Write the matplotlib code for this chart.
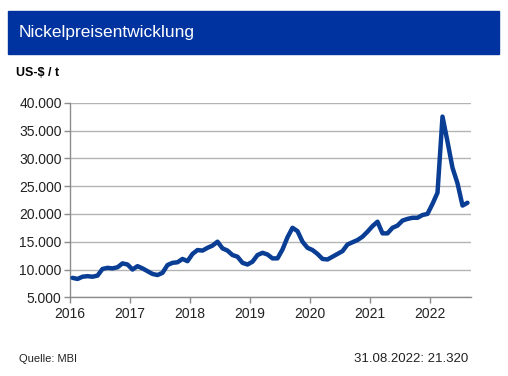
import numpy as np
import matplotlib.pyplot as plt
from matplotlib.patches import Rectangle

plt.rcParams['font.family'] = ['Liberation Sans', 'DejaVu Sans']

# monthly nickel price, US-$ / t, Jan 2016 .. Aug 2022
start_year = 2016
prices = [
    8500, 8300, 8700, 8800, 8700, 8900, 10100, 10300, 10200, 10400, 11100, 10900,   # 2016
    10000, 10600, 10200, 9700, 9200, 9000, 9400, 10800, 11200, 11300, 11900, 11500,  # 2017
    12800, 13500, 13400, 13900, 14300, 15000, 13800, 13400, 12600, 12300, 11200, 10900,  # 2018
    11400, 12600, 13000, 12700, 12000, 12000, 13600, 15800, 17500, 16900, 15000, 13900,  # 2019
    13500, 12800, 11900, 11800, 12300, 12800, 13300, 14500, 14900, 15300, 15900, 16800,  # 2020
    17800, 18600, 16500, 16500, 17500, 17900, 18800, 19100, 19300, 19300, 19800, 20000,  # 2021
    21800, 23800, 37500, 33000, 28300, 25500, 21500, 22000,  # 2022
]
yticks = [5000, 10000, 15000, 20000, 25000, 30000, 35000, 40000]
years = list(range(2016, 2023))
title = "Nickelpreisentwicklung"
unit = "US-$ / t"
source = "Quelle: MBI"
last_value = "31.08.2022: 21.320"

x = start_year + (np.arange(len(prices)) + 0.5) / 12.0

fig = plt.figure(figsize=(5.08, 3.76), dpi=100)
fig.patch.set_facecolor("white")

# header band
fig.patches.append(Rectangle((8/508, 1-53.7/376), 491/508, 42.7/376,
                             transform=fig.transFigure, color="#0033a0", zorder=0))
fig.text(19/508, 1-32.5/376, title, color="white", fontsize=12.5, va="center", ha="left")
fig.text(16/508, 1-73/376, unit, color="black", fontsize=9, fontweight="bold", va="center", ha="left")

ax = fig.add_axes([70/508, 1-297.3/376, 400.7/508, 194.6/376])
ax.plot(x, prices, color="#0a3d94", lw=3.2, solid_joinstyle="round", solid_capstyle="round", zorder=3)

ax.set_xlim(2016, 2016 + 400.7/60)
ax.set_ylim(5000, 40000)
ax.set_yticks(yticks)
ax.set_yticklabels([f"{v:,}".replace(",", ".") for v in yticks])
ax.set_xticks(years)
ax.set_xticklabels([str(y) for y in years])
ax.yaxis.grid(True, color="#b4b4b4", lw=1)
ax.set_axisbelow(True)

for s in ["top", "right"]:
    ax.spines[s].set_visible(False)
for s in ["left", "bottom"]:
    ax.spines[s].set_color("#8c8c8c")
    ax.spines[s].set_linewidth(1)
ax.tick_params(axis="both", colors="#8c8c8c", labelcolor="#222222", labelsize=10, length=4, width=1)
ax.tick_params(axis="x", pad=3)
ax.tick_params(axis="y", pad=2)

fig.text(19/508, 1-359/376, source, fontsize=8, va="center", ha="left", color="#222222")
fig.text(468/508, 1-359/376, last_value, fontsize=9.5, va="center", ha="right", color="#222222")

fig.savefig("out.png", dpi=100)
